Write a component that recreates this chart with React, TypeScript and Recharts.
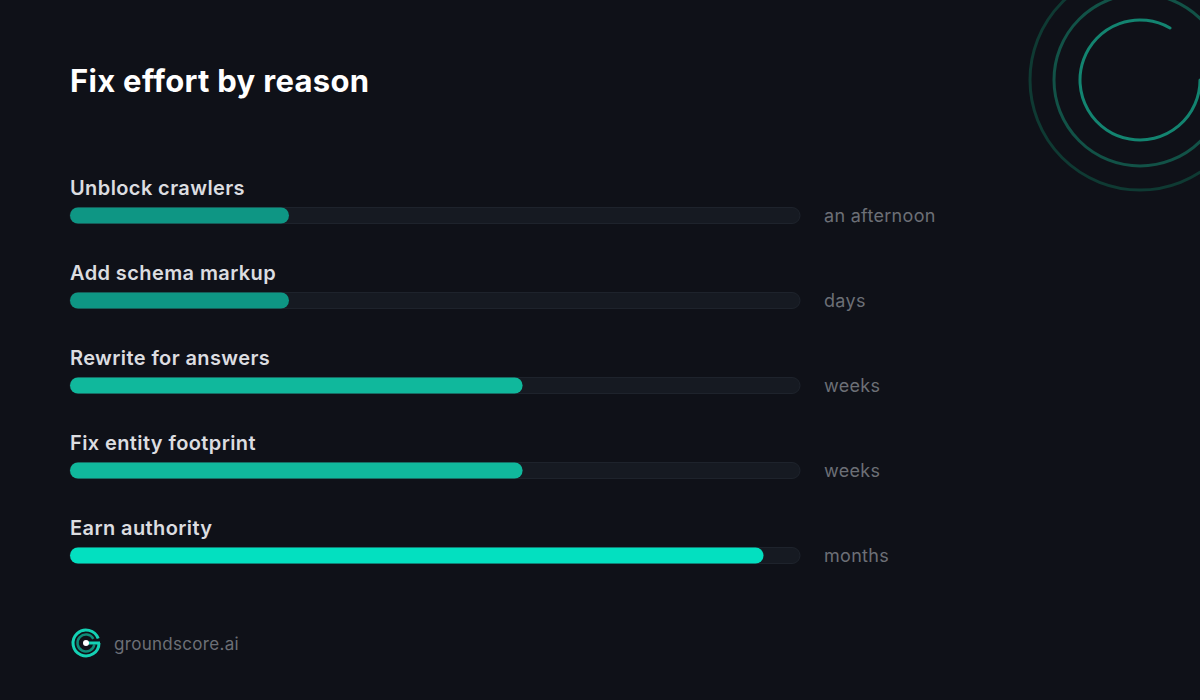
import { BarChart, Bar, XAxis, YAxis, Cell, LabelList } from 'recharts';

const reasons = ['Unblock crawlers', 'Add schema markup', 'Rewrite for answers', 'Fix entity footprint', 'Earn authority'];
const effort = [30, 30, 62, 62, 95];
const effortLabels = ['an afternoon', 'days', 'weeks', 'weeks', 'months'];
const barColors = ['#0e9684', '#0e9684', '#10b89c', '#10b89c', '#03e0c0'];

const data = reasons.map((name, i) => ({ name, value: effort[i], label: effortLabels[i] }));

const FONT = 'Inter, "Noto Sans", sans-serif';

const NameLabel = (props: any) => {
  const { x, y, index } = props;
  return (
    <text x={x} y={y - 13} fill="#dcdde0" fontSize={20} fontWeight={600} letterSpacing={0.4} fontFamily={FONT}>
      {reasons[index]}
    </text>
  );
};

const EffortLabel = (props: any) => {
  const { x, y, width, height, index } = props;
  const trackEnd = x + (width * 100) / effort[index];
  return (
    <text x={trackEnd + 24} y={y + height / 2 + 6} fill="#6c6f76" fontSize={18} letterSpacing={0.3} fontFamily={FONT}>
      {effortLabels[index]}
    </text>
  );
};

// arc path helper for the decorative rings
const arc = (cx: number, cy: number, r: number, a0: number, a1: number) => {
  const rad = (a: number) => (a * Math.PI) / 180;
  const x0 = cx + r * Math.cos(rad(a0));
  const y0 = cy - r * Math.sin(rad(a0));
  const x1 = cx + r * Math.cos(rad(a1));
  const y1 = cy - r * Math.sin(rad(a1));
  const large = Math.abs(a1 - a0) > 180 ? 1 : 0;
  return `M ${x0} ${y0} A ${r} ${r} 0 ${large} 0 ${x1} ${y1}`;
};

const App = () => {
  return (
    <div style={{ position: 'absolute', left: 0, top: 0, width: 1200, height: 700, background: '#0f1118', overflow: 'hidden', fontFamily: FONT }}>
      <svg width={1200} height={700} style={{ position: 'absolute', left: 0, top: 0 }}>
        <circle cx={1140} cy={80} r={110} fill="none" stroke="#0f3a33" strokeWidth={3} />
        <circle cx={1140} cy={80} r={86} fill="none" stroke="#125247" strokeWidth={3} />
        <path d={arc(1140, 80, 60, 60, 360)} fill="none" stroke="#138470" strokeWidth={3} strokeLinecap="round" />
        {/* logo */}
        <path d={arc(86, 643, 13, 20, 360)} fill="none" stroke="#14d2b4" strokeWidth={3} />
        <path d={arc(86, 643, 8.5, 30, 350)} fill="none" stroke="#0e8c78" strokeWidth={2.5} />
        <line x1={86} y1={643} x2={100} y2={643} stroke="#14d2b4" strokeWidth={3} />
        <circle cx={86} cy={643} r={3} fill="#ffffff" />
        <text x={114} y={650} fill="#6c6f76" fontSize={17} letterSpacing={0.3} fontFamily={FONT}>groundscore.ai</text>
        <text x={70} y={92} fill="#ffffff" fontSize={31} fontWeight={700} letterSpacing={0.3} fontFamily={FONT}>Fix effort by reason</text>
      </svg>
      <div style={{ position: 'absolute', left: 0, top: 0 }}>
        <BarChart
          width={1200}
          height={700}
          data={data}
          layout="vertical"
          margin={{ top: 172.5, right: 400, bottom: 102.5, left: 70 }}
        >
          <XAxis type="number" domain={[0, 100]} hide />
          <YAxis type="category" dataKey="name" hide width={0} />
          <Bar
            dataKey="value"
            barSize={16}
            radius={8}
            isAnimationActive={false}
            background={{ fill: '#161a22', stroke: '#1e232c', strokeWidth: 1, radius: 8 } as any}
          >
            {data.map((d, i) => (
              <Cell key={d.name} fill={barColors[i]} />
            ))}
            <LabelList dataKey="name" content={NameLabel} />
            <LabelList dataKey="label" content={EffortLabel} />
          </Bar>
        </BarChart>
      </div>
    </div>
  );
};

export default App;
